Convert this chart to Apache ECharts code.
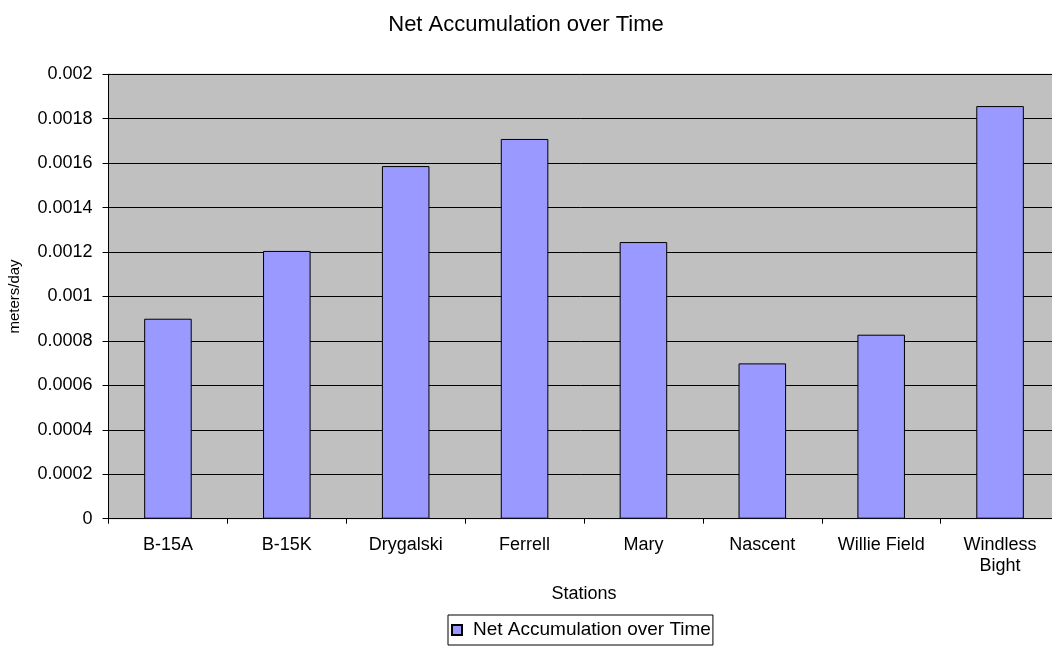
<!DOCTYPE html>
<html>
<head>
<meta charset="utf-8">
<script src="https://cdn.jsdelivr.net/npm/echarts@6/dist/echarts.min.js"></script>
<style>html,body{margin:0;padding:0;background:#fff}#c{width:1052px;height:646px}</style>
</head>
<body>
<div id="c"></div>
<script>
const categories = ["B-15A", "B-15K", "Drygalski", "Ferrell", "Mary", "Nascent", "Willie Field", "Windless\nBight"];
const seriesName = "Net Accumulation over Time";
const values = [0.0009, 0.001205, 0.001587, 0.001709, 0.001245, 0.000699, 0.000828, 0.001857];
const yMin = 0, yMax = 0.002, yStep = 0.0002;

const font = "'Liberation Sans', Arial, sans-serif";
const chart = echarts.init(document.getElementById('c'), null, {renderer: 'canvas'});
chart.setOption({
  animation: false,
  textStyle: {fontFamily: font},
  title: {
    text: "Net Accumulation over Time",
    left: 'center', top: 9,
    textStyle: {fontFamily: font, fontSize: 22, fontWeight: 'normal', color: '#000'}
  },
  legend: {
    data: [seriesName],
    bottom: 1, left: 448,
    borderColor: '#000', borderWidth: 1, padding: [5, 2, 5, 3],
    itemWidth: 10, itemHeight: 10,
    icon: 'rect',
    textStyle: {fontFamily: font, fontSize: 19, lineHeight: 20, color: '#000', padding: [0, 0, 0, 6]}
  },
  grid: {
    left: 108.5, top: 74.3, bottom: 127.3, right: -7.5,
    outerBoundsMode: 'none', containLabel: false,
    show: true, backgroundColor: '#C0C0C0', borderColor: '#A0A0A0', borderWidth: 1
  },
  xAxis: {
    type: 'category', data: categories,
    name: 'Stations', nameLocation: 'middle', nameGap: 66,
    nameTextStyle: {fontFamily: font, fontSize: 18, color: '#000'},
    axisLine: {lineStyle: {color: '#000', width: 1}},
    axisTick: {show: true, length: 5, lineStyle: {color: '#000'}},
    axisLabel: {fontFamily: font, fontSize: 18, color: '#000', margin: 16, lineHeight: 21, interval: 0}
  },
  yAxis: {
    type: 'value', min: yMin, max: yMax, interval: yStep,
    name: 'meters/day', nameLocation: 'middle', nameGap: 86,
    nameTextStyle: {fontFamily: font, fontSize: 15, color: '#000'},
    axisLine: {show: true, lineStyle: {color: '#000', width: 1}},
    axisTick: {show: true, length: 6, lineStyle: {color: '#000'}},
    axisLabel: {fontFamily: font, fontSize: 18, color: '#000', margin: 16,
      formatter: v => String(+v.toFixed(4))},
    splitLine: {show: true, lineStyle: {color: '#000', width: 1}}
  },
  series: [{
    name: seriesName, type: 'bar', data: values,
    barWidth: '40%',
    itemStyle: {color: '#9999FF', borderColor: '#000', borderWidth: 1}
  }]
});
</script>
</body>
</html>
